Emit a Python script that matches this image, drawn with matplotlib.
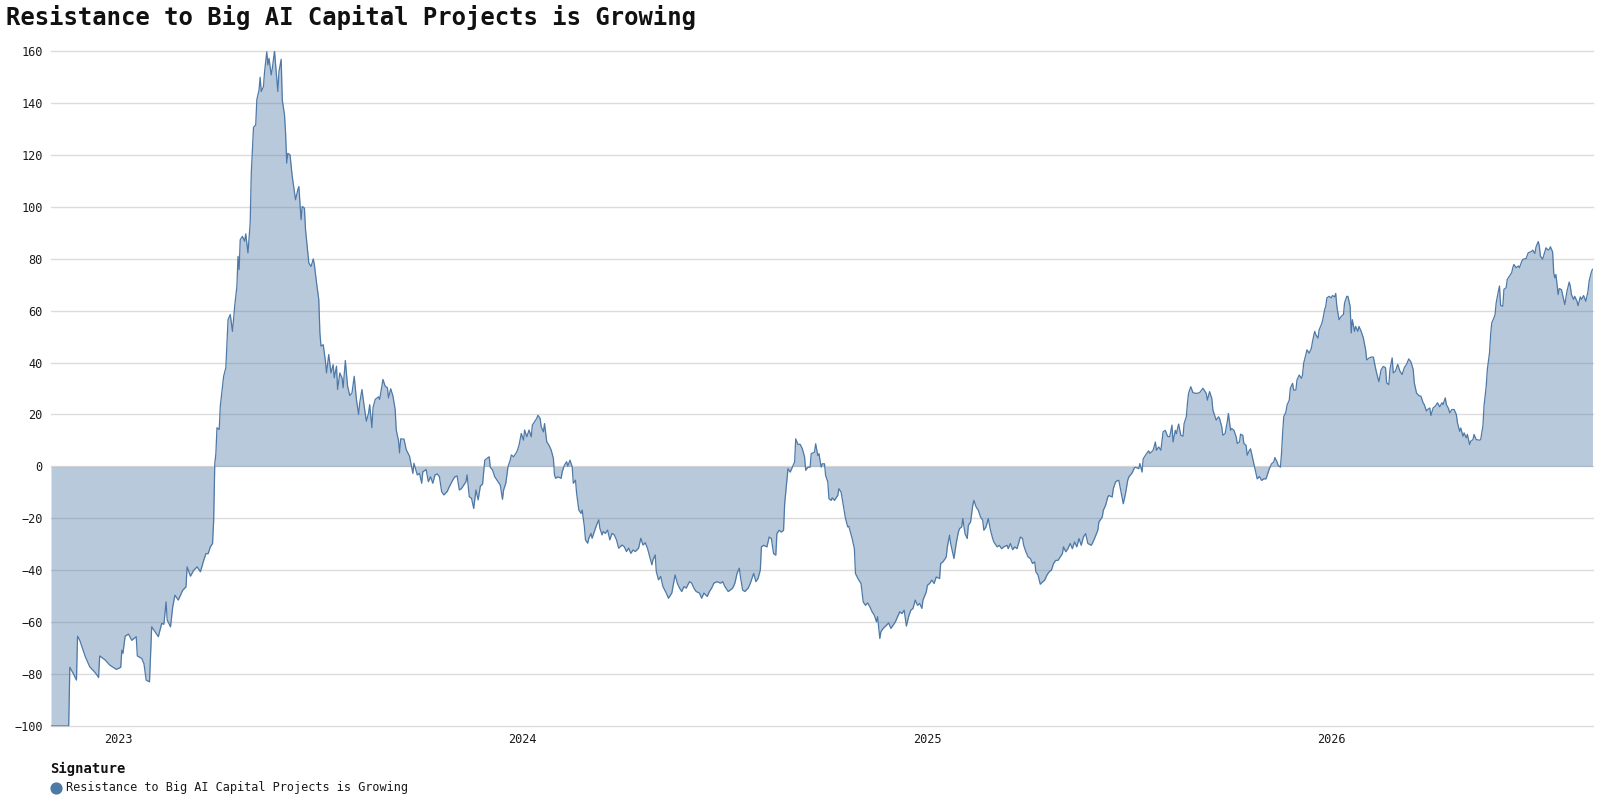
import numpy as np
import matplotlib
matplotlib.use("Agg")
import matplotlib.pyplot as plt
import matplotlib.dates as mdates
from matplotlib.lines import Line2D

plt.rcParams['font.family'] = ['DejaVu Sans Mono', 'DejaVu Sans']

TITLE = "Resistance to Big AI Capital Projects is Growing"
LEGEND_TITLE = "Signature"
SERIES_NAME = "Resistance to Big AI Capital Projects is Growing"
START_DATE = "2022-11-01"
END_OFFSET = 1393.5
Y_MIN, Y_MAX = -100, 160
Y_TICKS = [-100, -80, -60, -40, -20, 0, 20, 40, 60, 80, 100, 120, 140, 160]

# days since START_DATE
day_offsets = [
    0, 16, 17, 20, 23, 24, 26, 31, 35, 40, 43, 44, 49, 53, 59, 63, 64, 65, 67, 70,
    73, 77, 78, 82, 84, 86, 89, 91, 94, 97, 100, 102, 104, 105, 108, 110, 112, 115, 119, 122,
    123, 126, 129, 132, 135, 138, 140, 142, 144, 146, 147, 148, 149, 150, 152, 153, 156, 158, 160, 162,
    164, 166, 168, 169, 170, 171, 173, 175, 176, 178, 180, 181, 183, 185, 186, 188, 189, 190, 192, 193,
    195, 196, 197, 199, 200, 202, 203, 205, 206, 208, 209, 211, 212, 213, 214, 216, 218, 221, 223, 224,
    226, 227, 229, 230, 233, 235, 237, 238, 240, 242, 243, 244, 246, 248, 249, 251, 253, 255, 256, 258,
    259, 261, 263, 264, 266, 268, 270, 272, 274, 276, 278, 279, 281, 283, 285, 287, 288, 290, 291, 293,
    296, 297, 300, 302, 304, 305, 307, 309, 311, 312, 314, 315, 316, 319, 321, 324, 327, 328, 331, 333,
    335, 336, 339, 341, 343, 345, 347, 349, 351, 353, 355, 358, 360, 363, 365, 367, 369, 371, 373, 375,
    376, 378, 380, 382, 384, 386, 388, 390, 392, 394, 396, 397, 399, 401, 403, 406, 408, 409, 411, 413,
    415, 416, 418, 421, 423, 425, 427, 428, 430, 432, 434, 435, 437, 439, 440, 442, 443, 445, 446, 448,
    450, 452, 454, 455, 456, 458, 461, 462, 464, 466, 467, 469, 471, 472, 474, 475, 477, 479, 480, 482,
    483, 485, 486, 488, 489, 491, 493, 495, 496, 498, 499, 501, 503, 505, 507, 509, 511, 513, 516, 518,
    520, 522, 524, 526, 528, 531, 533, 535, 537, 539, 541, 543, 544, 546, 547, 549, 551, 553, 556, 558,
    559, 561, 564, 566, 568, 570, 572, 574, 577, 579, 581, 583, 586, 588, 590, 593, 595, 597, 599, 602,
    605, 607, 609, 612, 614, 616, 618, 620, 622, 623, 625, 627, 630, 632, 634, 635, 637, 639, 641, 642,
    644, 647, 649, 651, 653, 655, 656, 658, 660, 662, 663, 665, 666, 668, 670, 672, 673, 675, 677, 679,
    681, 682, 684, 686, 687, 690, 691, 693, 694, 696, 697, 699, 700, 702, 703, 705, 706, 708, 711, 712,
    714, 715, 718, 720, 721, 724, 726, 727, 730, 732, 734, 736, 738, 740, 742, 744, 746, 747, 749, 750,
    752, 755, 757, 759, 761, 763, 765, 767, 769, 771, 773, 775, 777, 779, 781, 783, 785, 787, 788, 791,
    792, 794, 796, 798, 800, 803, 804, 806, 809, 810, 812, 813, 815, 816, 818, 820, 821, 823, 824, 826,
    828, 829, 831, 833, 834, 836, 838, 840, 842, 843, 845, 847, 849, 851, 852, 855, 857, 859, 861, 864,
    865, 867, 869, 871, 873, 876, 878, 879, 881, 883, 885, 887, 889, 890, 892, 894, 896, 898, 900, 902,
    904, 906, 908, 910, 912, 914, 915, 917, 919, 921, 923, 925, 927, 929, 931, 933, 935, 937, 940, 941,
    943, 946, 947, 950, 951, 953, 955, 956, 959, 960, 962, 964, 965, 967, 969, 971, 973, 974, 977, 979,
    980, 983, 984, 986, 987, 990, 992, 993, 996, 998, 999, 1001, 1003, 1005, 1007, 1009, 1011, 1013, 1014, 1016,
    1017, 1019, 1021, 1023, 1024, 1026, 1027, 1028, 1030, 1032, 1035, 1038, 1041, 1044, 1045, 1047, 1049, 1050, 1052, 1053,
    1055, 1056, 1058, 1059, 1061, 1063, 1064, 1066, 1067, 1069, 1071, 1072, 1074, 1075, 1077, 1078, 1080, 1081, 1083, 1084,
    1086, 1087, 1089, 1090, 1092, 1094, 1096, 1098, 1100, 1101, 1103, 1105, 1106, 1108, 1109, 1111, 1112, 1113, 1114, 1116,
    1117, 1119, 1120, 1122, 1123, 1125, 1126, 1128, 1130, 1131, 1132, 1134, 1135, 1137, 1139, 1140, 1142, 1143, 1145, 1146,
    1148, 1149, 1151, 1152, 1153, 1155, 1157, 1158, 1160, 1161, 1162, 1164, 1166, 1168, 1169, 1171, 1172, 1174, 1175, 1176,
    1178, 1179, 1181, 1182, 1184, 1186, 1188, 1189, 1191, 1193, 1195, 1197, 1198, 1200, 1202, 1204, 1206, 1207, 1209, 1210,
    1212, 1213, 1215, 1217, 1219, 1221, 1223, 1225, 1227, 1229, 1231, 1232, 1234, 1236, 1238, 1240, 1241, 1243, 1244, 1246,
    1247, 1249, 1251, 1253, 1255, 1257, 1258, 1260, 1261, 1263, 1264, 1266, 1268, 1270, 1271, 1273, 1274, 1276, 1277, 1279,
    1280, 1282, 1283, 1285, 1286, 1288, 1291, 1292, 1294, 1295, 1297, 1298, 1300, 1301, 1302, 1304, 1305, 1306, 1308, 1309,
    1310, 1312, 1313, 1315, 1316, 1318, 1320, 1321, 1322, 1324, 1326, 1327, 1329, 1330, 1332, 1333, 1335, 1338, 1339, 1341,
    1342, 1344, 1345, 1346, 1348, 1350, 1351, 1353, 1354, 1355, 1357, 1358, 1359, 1360, 1362, 1363, 1365, 1366, 1368, 1369,
    1370, 1372, 1373, 1374, 1376, 1377, 1379, 1380, 1382, 1383, 1385, 1387, 1389, 1390, 1392, 1393,
]

values = [
    -100, -100, -77.4, -79.7, -82.3, -65.4, -67, -73.3, -77.2, -79.5, -81.3, -73, -74.6, -76.5, -78.2, -77.4, -70.8, -72, -65.4, -64.6,
    -67, -65.6, -73, -74, -76, -82.3, -83, -61.8, -63.7, -65.6, -60.5, -60.8, -52.2, -59.2, -61.8, -54.1, -49.6, -51.5, -47.7, -46.4,
    -38.7, -42.3, -40, -38.7, -40.6, -36.2, -33.6, -33.6, -31, -29.7, -20.8, 1, 4.9, 14.9, 14.2, 23.2, 34.7, 38, 56.5, 58.5,
    52, 61.7, 69.4, 80.9, 75.8, 87.3, 88.6, 86.7, 89.6, 82.2, 93.7, 113, 130.6, 131.5, 141.2, 145, 149.9, 144.4, 146.3, 152,
    159.7, 154.6, 157.2, 150.8, 153.3, 160, 154.6, 144.4, 152, 156.8, 141.2, 135.4, 128.3, 116.8, 120.6, 120, 111.7, 102.7, 106.5, 107.8,
    95, 100.1, 99.5, 91.2, 78.3, 77, 79.9, 77.7, 70.6, 64.2, 51.4, 46.3, 46.9, 40.5, 36, 43.1, 36, 39.2, 34.1, 38.6,
    29.6, 36, 34.1, 30.3, 40.8, 30.9, 27.3, 28.3, 34.7, 25.8, 20, 24.5, 29.6, 23.2, 17.4, 20.6, 23.8, 14.9, 22.6, 25.8,
    26.8, 25.8, 33.5, 30.9, 30.3, 26.4, 29.9, 27.1, 22, 14, 10, 5.2, 10.6, 10.5, 6.5, 3.9, -2.7, 1.2, -3.3, -2.7,
    -6.5, -2.1, -1.2, -5.9, -4, -6.5, -3.3, -2.9, -4, -9.7, -11, -9.7, -7.8, -5.3, -4, -3.7, -9.1, -8.5, -7.2, -5.9,
    -3.3, -11.7, -12.3, -16.2, -9.1, -12.9, -7.6, -6.8, 2.4, 3.1, 3.7, -0.4, -1.4, -4, -5.3, -7.2, -12.7, -9.1, -6.5, -0.1,
    2.4, 4.4, 3.7, 5.6, 8.2, 12.7, 10.1, 14, 11.4, 14, 11.4, 15.9, 17.2, 18.5, 19.7, 18.5, 15.3, 13.3, 16.5, 9.5,
    8.2, 6.3, 3.1, -3.3, -4.6, -4, -4.6, -2.1, 0.5, 1.8, 0.1, 2.4, -0.1, -6.5, -5.3, -10.4, -16.8, -18.1, -16.8, -23.2,
    -28.3, -29.6, -27.7, -25.8, -27.7, -25.1, -22.6, -20.6, -23.8, -26.4, -25.1, -25.8, -24.5, -28.3, -25.8, -26.4, -28.3, -31.5, -30.3, -30.9,
    -32.8, -31.5, -33.5, -32.2, -32.8, -31.5, -27.7, -30.3, -29.4, -31.5, -34.7, -37.9, -36, -34.1, -40.5, -43.7, -42.4, -46.3, -48.8, -50.8,
    -50.1, -48.8, -41.8, -45, -46.9, -48.2, -46.3, -46.9, -44.4, -45, -46.9, -48.2, -48.8, -50.8, -48.8, -50.1, -48.2, -46.9, -45, -44.4,
    -45, -44.4, -46.3, -48.2, -47.6, -46.9, -45, -41.2, -39.2, -42.4, -47.6, -48.2, -46.9, -45, -42.4, -41.2, -44.4, -43.1, -39.9, -31,
    -30.4, -31, -27.2, -27.8, -33.6, -34.2, -25.9, -24.6, -25.3, -24.6, -14.4, -5.4, -0.9, -2.2, -0.3, 1.7, 10.6, 8.5, 8.5, 6.8,
    3.6, -1.5, -0.3, -0.3, 4.9, 5.5, 8.7, 4.2, 4.9, -0.3, 1, 1, -3.5, -6, -12.4, -13.1, -12.1, -13.1, -11.2, -8.6,
    -9.9, -12.4, -20.1, -23.3, -23.1, -27.8, -31.7, -41.3, -43.8, -45.1, -52.2, -53.5, -52.6, -54.1, -56, -57.3, -59.9, -57.9, -66.3, -63.7,
    -62.4, -61.2, -60.3, -62.4, -61.2, -59.9, -57.9, -56, -56.7, -55.4, -61.5, -57.9, -55.4, -54.7, -51.5, -53.5, -52.8, -54.7, -51.5, -48.3,
    -45.8, -45.1, -43.8, -45.1, -42.6, -43.2, -37.4, -36.8, -34.9, -31, -26.5, -29.7, -33.6, -35.5, -29.7, -25.3, -24, -23.3, -20.1, -25.9,
    -27.8, -22.7, -21.4, -15, -13.1, -15.6, -16.9, -19.5, -20.8, -24.6, -23.3, -20.1, -24.6, -27.8, -29.1, -31, -30.4, -31.7, -31, -30.4,
    -31.7, -29.7, -32.1, -31, -31.7, -27.2, -27.8, -30.4, -32.9, -34.9, -35.5, -37.4, -36.8, -40.6, -41.9, -45.4, -44.5, -43.8, -41.9, -40.6,
    -40, -37.4, -36.2, -36.2, -34.9, -33.6, -31, -32.9, -31.7, -29.7, -31.7, -29.1, -31, -27.8, -30.4, -27.2, -25.9, -29.7, -30.4, -29.7,
    -27.8, -24.6, -21.4, -19.5, -16.9, -15, -11.8, -11.2, -11.8, -8.6, -6, -5.4, -5.4, -9.9, -14.4, -10.5, -5.4, -4.1, -2.5, -0.6,
    -0.3, -0.9, 1.1, -2.2, 2.9, 4.9, 6, 5, 6.2, 9.4, 6.2, 7.5, 6.2, 13.3, 13.9, 11.6, 11.4, 15.9, 9.4, 13.9,
    12.6, 16.3, 12, 11.6, 16.5, 19.1, 24.3, 28.1, 30.7, 28.4, 28.1, 28.4, 30.1, 28.1, 25.5, 28.8, 26.2, 21.7, 19.1, 17.8,
    19.1, 18.5, 15.2, 12, 12.6, 17.2, 20.4, 13.9, 14.6, 13.9, 11.4, 8.8, 9.4, 12.4, 12, 8.8, 8.1, 4.3, 6.2, 6.8,
    3, 1, -2.8, -4.8, -3.9, -5.4, -4.8, -4.8, -2.2, -0.9, 1, 1.7, 3.4, 1.7, 0.4, -0.3, 4.9, 12.6, 19.1, 21,
    23.6, 25.5, 30.1, 32, 29.4, 29.4, 33.3, 35.2, 33.9, 35.2, 39.7, 43, 44.9, 43.6, 45.5, 48.1, 52, 50.7, 49.4, 52.6,
    54.6, 55.9, 60.4, 61.7, 64.9, 65.5, 64.9, 65.8, 65.3, 66.6, 61.7, 56.5, 57.8, 58.5, 63, 65.5, 65.5, 61.7, 51.4, 56.5,
    52, 53.9, 52, 53.9, 52, 49.4, 44.9, 41, 41.7, 42.1, 42.1, 37.8, 35.9, 32.6, 37.2, 38.5, 38, 32.2, 31.5, 37.3,
    41.8, 36, 36.7, 39.3, 36.7, 35.4, 38, 39.3, 41.4, 40.2, 37.3, 32.2, 28.3, 27.3, 27, 24.5, 23.8, 21.3, 21.9, 22.5,
    19.6, 22.5, 23.2, 24.5, 22.9, 24.5, 23.8, 26.4, 23.8, 22.2, 20.6, 21.9, 21.9, 20, 16.8, 13.5, 14.8, 11.6, 12.9, 11,
    12.3, 8.4, 9.7, 10.3, 12.3, 10.3, 10.1, 10.3, 15.5, 23.2, 30.9, 37.3, 43.8, 50.8, 55.3, 57.2, 58.5, 63, 67.5, 69.5,
    62, 61.7, 68.2, 68.8, 72, 73.3, 74.6, 76.5, 77.8, 76.5, 77.2, 76.5, 78.8, 79.7, 80, 80, 82.3, 82.8, 83.3, 82,
    84.5, 86.6, 84.9, 81, 79.8, 82.7, 84.2, 83.3, 83.6, 84.6, 82.6, 74.6, 72.6, 73.9, 66.2, 68.5, 68.1, 66.2, 62.3, 64.9,
    67.5, 71, 69.4, 66.2, 64.3, 65.5, 63.6, 61.9, 65.3, 64.3, 65.8, 63.6, 67.5, 71.4, 74.8, 75.9,
]

LINE_COLOR = "#4e79a7"
GRID_COLOR = "#dcdcdc"
TEXT_COLOR = "#1a1a1a"

start = np.datetime64(START_DATE)
n = min(len(day_offsets), len(values))
dates = start + np.array(day_offsets[:n]).astype('timedelta64[D]')
vals = np.array(values[:n], dtype=float)

W, H = 1600, 800
fig = plt.figure(figsize=(W / 100, H / 100), dpi=100)
ax = fig.add_axes([51 / W, 1 - 726 / H, (1593 - 51) / W, (726 - 51) / H])

ax.fill_between(dates, vals, 0, color=LINE_COLOR, alpha=0.4, linewidth=0, zorder=2)
ax.plot(dates, vals, color=LINE_COLOR, linewidth=0.9, zorder=3)

ax.set_xlim(start, start + np.timedelta64(int(END_OFFSET * 24), 'h'))
ax.set_ylim(Y_MIN, Y_MAX)
ax.set_yticks(Y_TICKS)
ax.yaxis.grid(True, color=GRID_COLOR, linewidth=1.0, zorder=0)
ax.xaxis.grid(False)
ax.set_axisbelow(True)
for gl in ax.get_ygridlines():
    gl.set_clip_on(False)
for s in ax.spines.values():
    s.set_visible(False)

ax.xaxis.set_major_locator(mdates.YearLocator())
ax.xaxis.set_major_formatter(mdates.DateFormatter('%Y'))
ax.tick_params(axis='both', length=0, labelsize=8.6, colors=TEXT_COLOR)
ax.tick_params(axis='y', pad=6)
ax.tick_params(axis='x', pad=5)

fig.text(6 / W, 1 - 17 / H, TITLE, fontsize=17.2, fontweight='bold',
         color='#111111', ha='left', va='center')

fig.text(50 / W, 1 - 769 / H, LEGEND_TITLE, fontsize=10, fontweight='bold',
         color='#111111', ha='left', va='center')
fig.add_artist(Line2D([56.5 / W], [1 - 787.5 / H], transform=fig.transFigure,
                      marker='o', markersize=7.8, color=LINE_COLOR, linestyle='none'))
fig.text(66 / W, 1 - 787.5 / H, SERIES_NAME, fontsize=8.6, color=TEXT_COLOR,
         ha='left', va='center')

fig.savefig("out.png", dpi=100)
